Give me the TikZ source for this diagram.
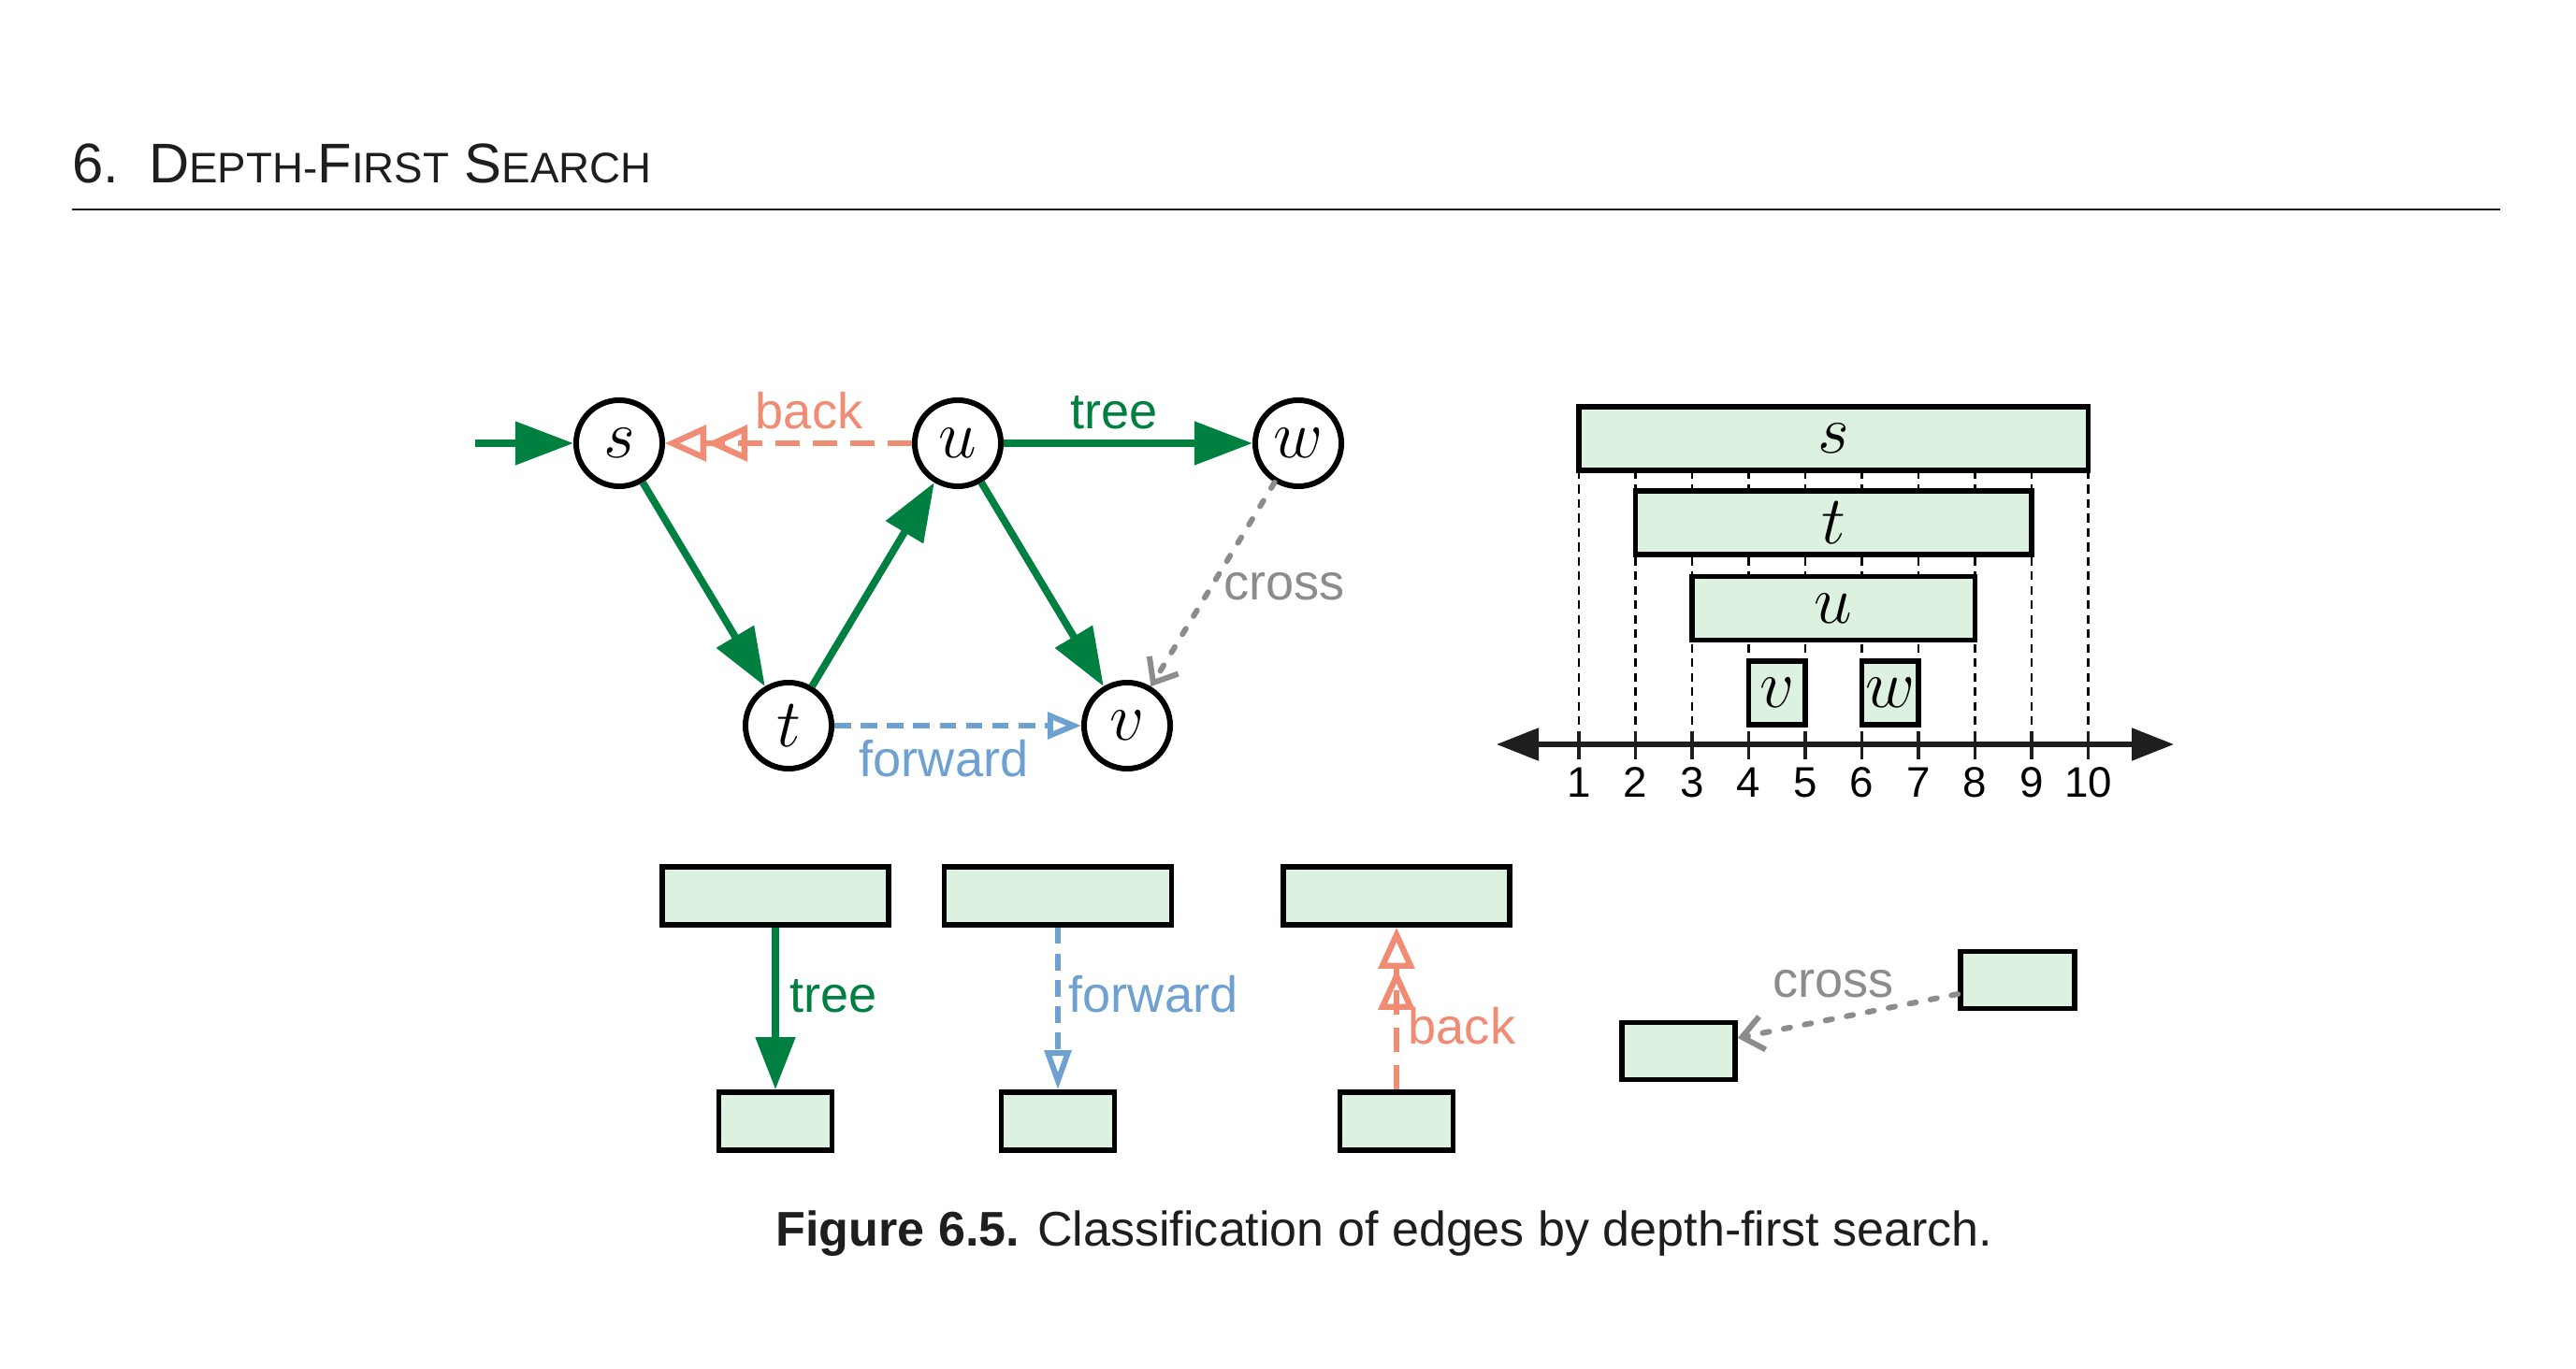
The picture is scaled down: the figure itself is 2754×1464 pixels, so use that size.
\documentclass[tikz,border=0pt]{standalone}
\usepackage{fontspec}
\setmainfont{Liberation Sans}
\usetikzlibrary{arrows.meta}
\definecolor{treeC}{RGB}{0,128,64}
\definecolor{backC}{RGB}{240,140,115}
\definecolor{fwdC}{RGB}{110,160,210}
\definecolor{crossC}{RGB}{140,140,140}
\definecolor{boxC}{RGB}{221,241,224}
\definecolor{inkC}{RGB}{30,30,30}
\tikzset{
  vtx/.style={circle, draw=black, line width=1.7pt, fill=white, minimum size=0.92cm, inner sep=0pt, font=\fontsize{20}{24}\selectfont},
  bar/.style={rectangle, draw=black, line width=1.6pt, fill=boxC, inner sep=0pt, minimum height=0.68cm, font=\fontsize{20}{24}\selectfont},
  sbox/.style={rectangle, draw=black, line width=1.6pt, fill=boxC, inner sep=0pt, minimum height=0.62cm},
  treeedge/.style={draw=treeC, line width=2.2pt, -{Triangle[length=0.62cm,width=0.45cm]}},
  fwdedge/.style={draw=fwdC, line width=1.7pt, dash pattern=on 5pt off 3pt, -{Triangle[open,length=0.36cm,width=0.28cm]}},
  backedge/.style={draw=backC, line width=1.8pt, dash pattern=on 7.4pt off 4pt, -{Triangle[open,length=0.44cm,width=0.38cm] Triangle[open,length=0.44cm,width=0.38cm]}},
  crossedge/.style={draw=crossC, line width=1.7pt, line cap=round, dash pattern=on 2pt off 4.5pt, -{Straight Barb[length=0.22cm,width=0.36cm]}},
  lbl/.style={inner sep=0pt, font=\fontsize{15.4}{18}\selectfont},
  tickline/.style={draw=black, line width=0.6pt, dash pattern=on 2.6pt off 1.8pt},
  ticklbl/.style={inner sep=0pt, font=\fontsize{13}{15}\selectfont},
  axisline/.style={draw=inkC, line width=1.5pt, {Triangle[length=0.45cm,width=0.34cm]}-{Triangle[length=0.45cm,width=0.34cm]}},
}
\begin{document}
\begin{tikzpicture}[x=0.01cm,y=-0.01cm]
\useasboundingbox (0,0) rectangle (2754,1464);
\fill[white] (0,0) rectangle (2754,1464);

% header
\node[anchor=base west, inner sep=0pt, text=inkC] (hdr) at (77,196)
  {\fontsize{17}{20}\selectfont 6.\hspace{9pt}D{\fontsize{13}{16}\selectfont EPTH-}F{\fontsize{13}{16}\selectfont IRST} S{\fontsize{13}{16}\selectfont EARCH}};
\coordinate (rl) at (77,224);
\coordinate (rr) at (2673,224);
\draw[inkC, line width=0.8pt] (rl) -- (rr);

% graph
\node[vtx] (s) at (662,474) {$s$};
\node[vtx] (u) at (1024,474) {$u$};
\node[vtx] (w) at (1388,474) {$w$};
\node[vtx] (t) at (843,776) {$t$};
\node[vtx] (v) at (1205,776) {$v$};
\coordinate (in) at (508,474);
\draw[treeedge] (in) -- (s);
\draw[treeedge] (s) -- (t);
\draw[treeedge] (t) -- (u);
\draw[treeedge] (u) -- (v);
\draw[treeedge] (u) -- (w);
\draw[backedge] (u) -- (s);
\draw[fwdedge] (t) -- (v);
\draw[crossedge] (w) -- (v);
\node[lbl, text=backC] (lback) at (865,439) {back};
\node[lbl, text=treeC] (ltree) at (1191,441) {tree};
\node[lbl, text=crossC] (lcross) at (1373,627) {cross};
\node[lbl, text=fwdC] (lfwd) at (1009,811) {forward};

% timeline
\foreach \k in {1,...,10} {
  \pgfmathsetmacro{\xx}{1688+(\k-1)*60.5}
  \coordinate (ta\k) at (\xx,503);
  \coordinate (tb\k) at (\xx,812);
  \coordinate (tc\k) at (\xx,782);
  \draw[tickline] (ta\k) -- (tb\k);
  \draw[draw=inkC, line width=1pt] (tc\k) -- (tb\k);
  \node[ticklbl] (n\k) at (\xx,837) {\k};
}
\node[bar, minimum width=5.445cm] (bs) at (1960.25,469) {$s$};
\node[bar, minimum width=4.235cm] (bt) at (1960.25,559) {$t$};
\node[bar, minimum width=3.025cm] (bu) at (1960.25,650.5) {$u$};
\node[bar, minimum width=0.605cm] (bv) at (1899.75,741) {$v$};
\node[bar, minimum width=0.605cm] (bw) at (2020.75,741) {$w$};
\coordinate (axL) at (1600,796);
\coordinate (axR) at (2324,796);
\draw[axisline] (axL) -- (axR);

% bottom: tree
\node[sbox, minimum width=2.42cm] (tra) at (829,958) {};
\node[sbox, minimum width=1.21cm] (trb) at (829,1199) {};
\draw[treeedge, -{Triangle[length=0.56cm,width=0.41cm]}] (tra) -- (trb);
\node[lbl, text=treeC, anchor=west] (ltree2) at (844,1065) {tree};
% forward
\node[sbox, minimum width=2.43cm] (fwa) at (1131,958) {};
\node[sbox, minimum width=1.21cm] (fwb) at (1131,1199) {};
\draw[fwdedge, -{Triangle[open,length=0.42cm,width=0.28cm]}] (fwa) -- (fwb);
\node[lbl, text=fwdC, anchor=west] (lfwd2) at (1142,1063) {forward};
% back
\node[sbox, minimum width=2.42cm] (bka) at (1493,958) {};
\node[sbox, minimum width=1.21cm] (bkb) at (1493,1199) {};
\draw[backedge] (bkb) -- (bka);
\node[lbl, text=backC, anchor=west] (lback2) at (1505,1097) {back};
% cross
\node[sbox, minimum width=1.21cm, minimum height=0.61cm] (crl) at (1794.5,1124) {};
\node[sbox, minimum width=1.22cm, minimum height=0.61cm] (crr) at (2157,1048) {};
\draw[crossedge] ([yshift=-0.15cm]crr.west) -- ([yshift=0.14cm]crl.east);
\node[lbl, text=crossC] (lcross2) at (1960,1052) {cross};

% caption
\node[anchor=base west, inner sep=0pt, text=inkC, font=\fontsize{14.8}{18}\selectfont] (cap) at (829,1332)
  {\textbf{Figure 6.5.} Classification of edges by depth-first search.};
\end{tikzpicture}
\end{document}
